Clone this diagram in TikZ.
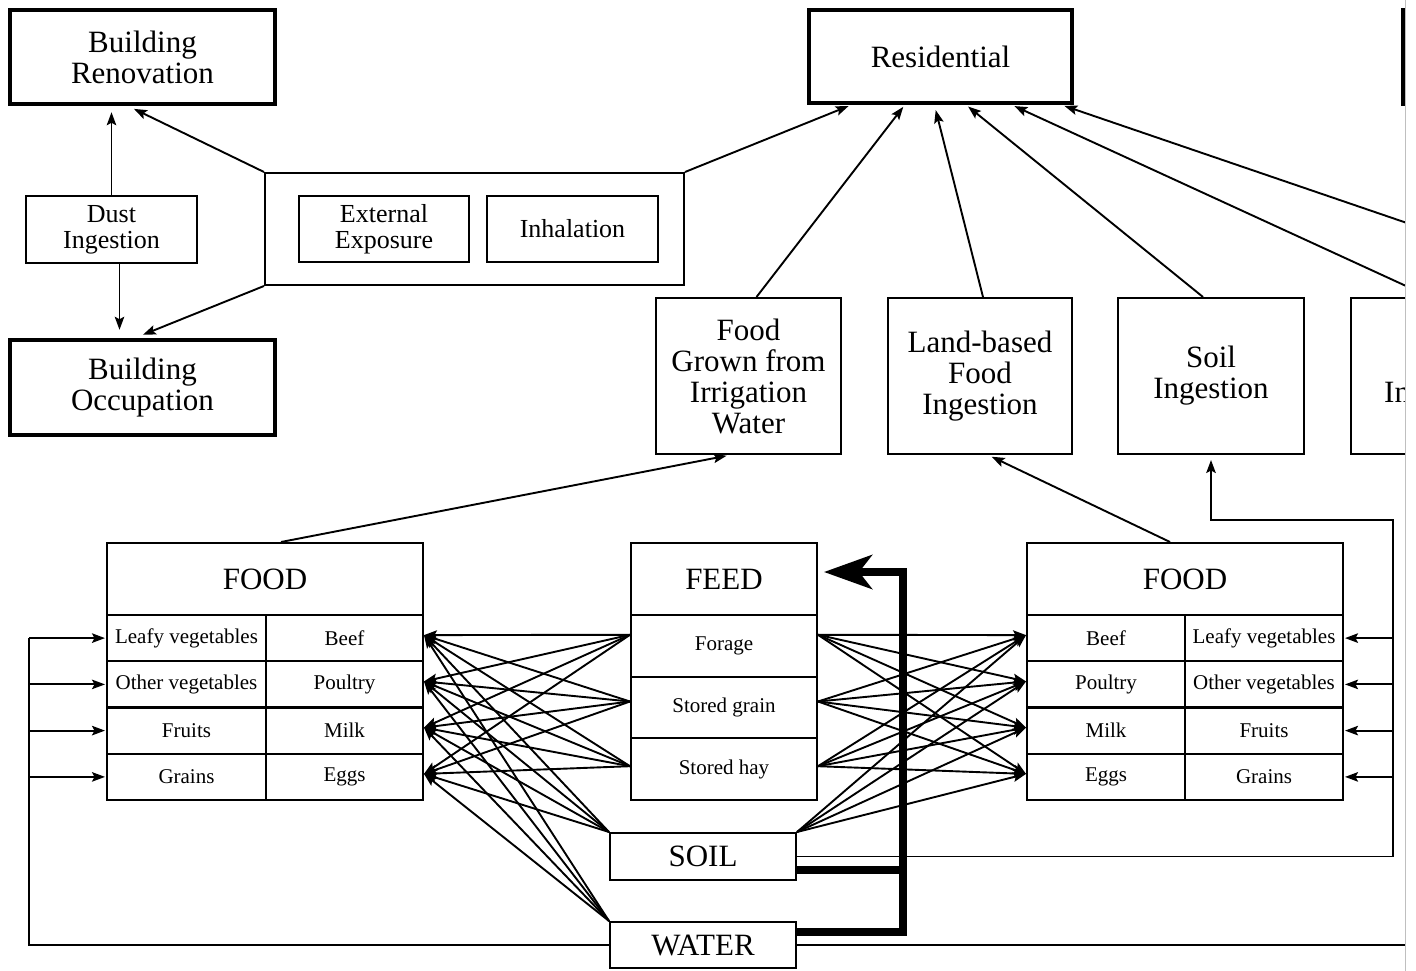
\documentclass[tikz,border=0pt]{standalone}
\usepackage{fontspec}
\setmainfont{Liberation Serif}
\usetikzlibrary{arrows.meta,calc}
\newcommand\txtbig{\fontsize{31pt}{31pt}\selectfont}
\newcommand\txtmid{\fontsize{26pt}{26pt}\selectfont}
\newcommand\txtsml{\fontsize{21pt}{21pt}\selectfont}
\begin{document}
\begin{tikzpicture}[x=1pt,y=-1pt,
  plain/.style={draw, line width=2pt, inner sep=0pt, align=center},
  heavy/.style={plain, line width=4.5pt},
  big/.style={font=\txtbig},
  mid/.style={font=\txtmid},
  cell/.style={plain, font=\txtsml},
  wire/.style={line width=1.9pt},
  arr/.style={wire, -{Stealth[length=13pt,width=9.5pt,inset=2.5pt]}},
  bus/.style={line width=7.5pt, line join=miter},
]
\useasboundingbox (0,0) rectangle (1416,971);
\begin{scope}
\clip (0,0) rectangle (1405,971);

% building scenarios
\node[heavy, big, minimum width=265pt, minimum height=94pt] (ren) at (142.5,57) {Building\\Renovation};
\node[heavy, big, minimum width=265pt, minimum height=95pt] (occ) at (142.5,387.5) {Building\\Occupation};
\node[plain, mid, minimum width=171pt, minimum height=67pt] (dust) at (111.5,229.5) {Dust\\Ingestion};
\node[plain, minimum width=419pt, minimum height=112pt] (grp) at (474.5,229) {};
\node[plain, mid, minimum width=170pt, minimum height=66pt] (ext) at (384,229) {External\\Exposure};
\node[plain, mid, minimum width=171pt, minimum height=66pt] (inh) at (572.5,229) {Inhalation};

% residential scenario and its pathways
\node[heavy, big, minimum width=263pt, minimum height=93pt] (res) at (940.5,56.5) {Residential};
\node[heavy, minimum width=200pt, minimum height=94pt] (rt) at (1503,57) {};
\node[plain, big, minimum width=185pt, minimum height=156pt] (fgw) at (748.5,376) {Food\\Grown from\\Irrigation\\Water};
\node[plain, big, minimum width=184pt, minimum height=156pt] (lbf) at (980,376) {Land-based\\Food\\Ingestion};
\node[plain, big, minimum width=186pt, minimum height=156pt] (soi) at (1211,376) {Soil\\Ingestion};
\node[plain, minimum width=186pt, minimum height=156pt] (wat) at (1444,376) {};
\node[big, inner sep=0pt, anchor=base west] (watlbl) at (1384,402) {In};

% left food table
\node[plain, big, minimum width=316pt, minimum height=72pt] (lfh) at (265,579) {FOOD};
\foreach \i/\y/\p/\a in {1/638.1/Leafy vegetables/Beef, 2/684.4/Other vegetables/Poultry,
                         3/730.6/Fruits/Milk, 4/776.9/Grains/Eggs} {
  \node[cell, minimum width=159pt, minimum height=46.25pt] (lv\i) at (186.5,\y) {\p};
  \node[cell, minimum width=157pt, minimum height=46.25pt] (lb\i) at (344.5,\y) {\a};
}

% feed table
\node[plain, big, minimum width=186pt, minimum height=72pt] (feedh) at (724,579) {FEED};
\foreach \i/\y/\f in {1/645.8/Forage, 2/707.5/Stored grain, 3/769.2/Stored hay} {
  \node[cell, minimum width=186pt, minimum height=61.67pt] (fd\i) at (724,\y) {\f};
}

% right food table
\node[plain, big, minimum width=316pt, minimum height=72pt] (rfh) at (1185,579) {FOOD};
\foreach \i/\y/\a/\p in {1/638.1/Beef/Leafy vegetables, 2/684.4/Poultry/Other vegetables,
                         3/730.6/Milk/Fruits, 4/776.9/Eggs/Grains} {
  \node[cell, minimum width=158pt, minimum height=46.25pt] (rb\i) at (1106,\y) {\a};
  \node[cell, minimum width=158pt, minimum height=46.25pt] (rv\i) at (1264,\y) {\p};
}

% media
\node[plain, big, minimum width=186pt, minimum height=47pt] (soil) at (703,856.5) {SOIL};
\node[plain, big, minimum width=186pt, minimum height=46pt] (water) at (703,945) {WATER};

% helper points
\coordinate (offr) at (1600,289);
\coordinate (rbus) at (1393,520);
\coordinate (lbus) at ([xshift=-77pt]lv1.west);
\coordinate (wout) at ([xshift=700pt]water.east);
\coordinate (tb) at (903,572);
\coordinate (dtop) at (dust.north);
\coordinate (dbot) at ([xshift=8pt]dust.south);
\coordinate (fL1) at ([yshift=11pt]fd1.west);
\coordinate (fL2) at ([yshift=6pt]fd2.west);
\coordinate (fL3) at ([yshift=3pt]fd3.west);
\coordinate (fR1) at ([yshift=11pt]fd1.east);
\coordinate (fR2) at ([yshift=6pt]fd2.east);
\coordinate (fR3) at ([yshift=3pt]fd3.east);
\foreach \i in {1,...,4} {
  \coordinate (tL\i) at ([yshift=3pt]lb\i.east);
  \coordinate (tR\i) at ([yshift=3pt]rb\i.west);
}

% building connectors
\draw[arr, shorten >=6pt] (dtop) -- (dtop |- ren.south);
\draw[arr, shorten >=8pt] (dbot) -- (dbot |- occ.north);
\draw[arr, shorten >=6pt] (grp.north west) -- ([xshift=-14pt]ren.south);
\draw[arr, shorten >=8pt] (grp.south west) -- ([xshift=-7pt]occ.north);

% pathways into the residential scenario
\draw[arr, shorten >=2pt] (grp.north east) -- ([xshift=-90pt]res.south);
\draw[arr, shorten >=2pt] ([xshift=8pt]fgw.north) -- ([xshift=-36pt]res.south);
\draw[arr, shorten >=5pt] ([xshift=3pt]lbf.north) -- ([xshift=-6pt]res.south);
\draw[arr, shorten >=2pt] ([xshift=-8pt]soi.north) -- ([xshift=26pt]res.south);
\draw[arr, shorten >=2pt] ([xshift=-14pt]wat.north) -- ([xshift=72pt]res.south);
\draw[arr, shorten >=2pt] (offr) -- ([xshift=122pt]res.south);

% food tables into pathways
\draw[arr, shorten >=4pt] ([xshift=16pt]lfh.north) -- ([xshift=-18pt]fgw.south);
\draw[arr, shorten >=4pt] ([xshift=-15pt]rfh.north) -- ([xshift=8pt]lbf.south);

% feed, soil and water into animal products
\foreach \s in {fL1,fL2,fL3,soil.north west,water.north west}
  \foreach \t in {1,...,4}
    \draw[arr] (\s) -- (tL\t);
\foreach \s in {fR1,fR2,fR3,soil.north east}
  \foreach \t in {1,...,4}
    \draw[arr] (\s) -- (tR\t);

% soil into crops and soil ingestion
\draw[arr, shorten >=5pt] (soil.east) -| (rbus) -| (soi.south);
\foreach \i in {1,...,4}
  \draw[arr, shorten >=1pt] (rbus |- rv\i.east) -- (rv\i.east);

% irrigation water into crops
\draw[wire] (water.west) -| (lbus);
\foreach \i in {1,...,4}
  \draw[arr, shorten >=1pt] (lbus |- lv\i.west) -- (lv\i.west);
\draw[wire] (water.east) -- (wout);

% soil and water into feed
\draw[bus] ([yshift=-13.5pt]soil.east) -| (tb);
\draw[bus, -{Stealth[length=48pt,width=34pt,inset=13pt]}, shorten >=6pt]
  ([yshift=13pt]water.east) -| (tb) -- (tb -| feedh.east);
\end{scope}
\draw[gray!50, line width=0.8pt] (1405.5,0) -- (1405.5,971);
\end{tikzpicture}
\end{document}
